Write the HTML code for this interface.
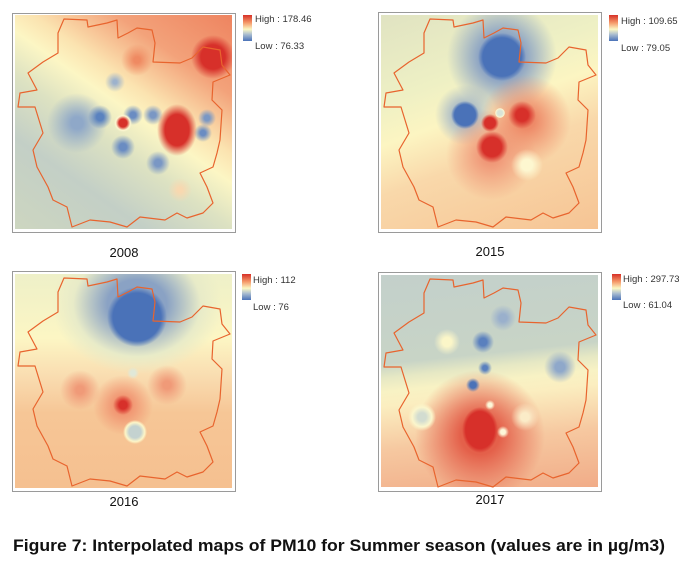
<!DOCTYPE html>
<html><head><meta charset="utf-8"><style>
html,body{margin:0;padding:0;background:#fff;}
body{width:679px;height:567px;position:relative;overflow:hidden;font-family:"Liberation Sans",sans-serif;}
.frame{position:absolute;border:1px solid #9a9a9a;background:#fff;}
.map{position:absolute;}
.sw{position:absolute;width:9px;height:26px;background:linear-gradient(#d73027,#f59a6a 30%,#fbf7c4 55%,#a9bcd0 75%,#4a72b8);}
.lt{position:absolute;font-size:9.5px;color:#333;white-space:nowrap;}
.cap{position:absolute;font-size:13px;color:#111;width:80px;text-align:center;}
svg{position:absolute;left:0;top:0;}
</style></head><body>

<!-- Panel 1 -->
<div class="frame" style="left:12px;top:13px;width:222px;height:218px"></div>
<div class="map" style="left:15px;top:15px;width:217px;height:214px;background:
radial-gradient(circle 22px at 198px 42px,#d7302a 55%,rgba(215,48,42,0) 100%),
radial-gradient(ellipse 20px 26px at 162px 115px,#d7302a 60%,rgba(215,48,42,0) 100%),
radial-gradient(circle 9px at 108px 108px,#d7302a 45%,#fdf6d0 80%,rgba(253,246,208,0) 100%),
radial-gradient(circle 12px at 85px 102px,#5a82bf 30%,rgba(90,130,191,0) 100%),
radial-gradient(circle 10px at 118px 100px,#6a8cc2 30%,rgba(106,140,194,0) 100%),
radial-gradient(circle 10px at 138px 100px,#7a97c4 30%,rgba(122,151,196,0) 100%),
radial-gradient(circle 12px at 108px 132px,#6a8cc2 30%,rgba(106,140,194,0) 100%),
radial-gradient(circle 12px at 143px 148px,#7a97c4 30%,rgba(122,151,196,0) 100%),
radial-gradient(circle 9px at 192px 103px,#7a97c4 30%,rgba(122,151,196,0) 100%),
radial-gradient(circle 9px at 188px 118px,#6a8cc2 30%,rgba(106,140,194,0) 100%),
radial-gradient(circle 30px at 62px 108px,#8fa8c8 20%,rgba(143,168,200,0) 100%),
radial-gradient(circle 10px at 100px 67px,#9db2cc 20%,rgba(157,178,204,0) 100%),
radial-gradient(circle 16px at 122px 45px,#ef8a62 20%,rgba(239,138,98,0) 100%),
radial-gradient(circle 12px at 165px 175px,#f8d8b0 20%,rgba(248,216,176,0) 100%),
linear-gradient(215deg,#ee8460 0%,#f3a27a 22%,#fbe3b0 38%,#fcf6c4 46%,#dde2c2 58%,#c3cfc6 75%,#cdd6c0 100%);"></div>
<div class="sw" style="left:243px;top:15px"></div>
<div class="lt" style="left:255px;top:14px">High : 178.46</div>
<div class="lt" style="left:255px;top:41px">Low : 76.33</div>
<div class="cap" style="left:84px;top:245px">2008</div>

<!-- Panel 2 -->
<div class="frame" style="left:378px;top:12px;width:222px;height:219px"></div>
<div class="map" style="left:381px;top:15px;width:217px;height:214px;background:
radial-gradient(circle 24px at 121px 42px,#4a72b8 80%,rgba(74,114,184,0) 100%),
radial-gradient(circle 14px at 84px 100px,#4a72b8 75%,rgba(74,114,184,0) 100%),
radial-gradient(circle 5px at 119px 98px,#d8e4d8 50%,#fdf6d0 90%,rgba(253,246,208,0) 100%),
radial-gradient(circle 9px at 109px 108px,#d7302a 60%,rgba(215,48,42,0) 100%),
radial-gradient(circle 16px at 111px 132px,#d7302a 60%,rgba(215,48,42,0) 100%),
radial-gradient(circle 14px at 141px 100px,#d7302a 45%,rgba(215,48,42,0) 100%),
radial-gradient(circle 16px at 146px 150px,#fdf7d0 35%,rgba(253,247,208,0) 100%),
radial-gradient(circle 45px at 145px 105px,#ee8a68 20%,rgba(238,138,104,0) 100%),
radial-gradient(circle 45px at 110px 140px,#f09878 20%,rgba(240,152,120,0) 100%),
radial-gradient(circle 55px at 121px 42px,#8aa2c4 40%,rgba(138,162,196,0) 100%),
radial-gradient(circle 30px at 84px 100px,#a0b4c8 30%,rgba(160,180,200,0) 100%),
linear-gradient(160deg,#e0e3c2 0%,#eef0c4 30%,#fcf5c2 45%,#f9d8aa 62%,#f6c494 100%);"></div>
<div class="sw" style="left:609px;top:15px"></div>
<div class="lt" style="left:621px;top:16px">High : 109.65</div>
<div class="lt" style="left:621px;top:43px">Low : 79.05</div>
<div class="cap" style="left:450px;top:244px">2015</div>

<!-- Panel 3 -->
<div class="frame" style="left:12px;top:271px;width:222px;height:219px"></div>
<div class="map" style="left:15px;top:274px;width:217px;height:214px;background:
radial-gradient(circle 30px at 122px 43px,#4a72b8 80%,rgba(74,114,184,0) 100%),
radial-gradient(circle 6px at 118px 99px,#e0e8d8 40%,rgba(253,246,208,0) 100%),
radial-gradient(circle 10px at 108px 131px,#d7302a 40%,rgba(215,48,42,0) 100%),
radial-gradient(circle 12px at 120px 158px,#c4d2d0 50%,#fdf6c8 80%,rgba(253,246,200,0) 100%),
radial-gradient(circle 20px at 65px 116px,#f09a78 20%,rgba(240,154,120,0) 100%),
radial-gradient(circle 20px at 152px 111px,#f09a78 20%,rgba(240,154,120,0) 100%),
radial-gradient(circle 30px at 108px 131px,#f08e6c 20%,rgba(240,142,108,0) 100%),
radial-gradient(ellipse 85px 70px at 122px 30px,#8aa2c4 35%,#e8ebc8 75%,rgba(252,246,196,0) 100%),
linear-gradient(180deg,#eef0c8 0%,#fcf6c4 30%,#f9dcb0 48%,#f6c696 65%,#f5c090 100%);"></div>
<div class="sw" style="left:242px;top:274px"></div>
<div class="lt" style="left:253px;top:275px">High : 112</div>
<div class="lt" style="left:253px;top:302px">Low : 76</div>
<div class="cap" style="left:84px;top:494px">2016</div>

<!-- Panel 4 -->
<div class="frame" style="left:378px;top:272px;width:222px;height:218px"></div>
<div class="map" style="left:381px;top:275px;width:217px;height:212px;background:
radial-gradient(ellipse 18px 23px at 99px 155px,#d7302a 80%,rgba(215,48,42,0) 100%),
radial-gradient(circle 6px at 122px 157px,#fdf7d8 40%,rgba(253,247,216,0) 100%),
radial-gradient(circle 5px at 109px 130px,#fdf7d8 40%,rgba(253,247,216,0) 100%),
radial-gradient(circle 11px at 102px 67px,#5a80be 35%,rgba(90,128,190,0) 100%),
radial-gradient(circle 7px at 104px 93px,#5a80be 35%,rgba(90,128,190,0) 100%),
radial-gradient(circle 7px at 92px 110px,#4a72b8 45%,rgba(74,114,184,0) 100%),
radial-gradient(circle 13px at 122px 43px,#9ab0cc 30%,rgba(154,176,204,0) 100%),
radial-gradient(circle 16px at 179px 92px,#8fa8ca 30%,rgba(143,168,202,0) 100%),
radial-gradient(circle 13px at 66px 67px,#fbf6c8 35%,rgba(251,246,200,0) 100%),
radial-gradient(circle 14px at 41px 142px,#d2dcd0 30%,#fbf6cc 70%,rgba(251,246,204,0) 100%),
radial-gradient(circle 14px at 144px 142px,#fbecc8 30%,rgba(251,236,200,0) 100%),
radial-gradient(circle 65px at 99px 160px,#e4604a 30%,rgba(228,96,74,0) 100%),
linear-gradient(174deg,#c3d0cb 0%,#c8d4c6 38%,#e6e8c4 44%,#f8f2c4 50%,#fbeec0 56%,#f6c8a0 75%,#f1ac88 100%);"></div>
<div class="sw" style="left:612px;top:274px"></div>
<div class="lt" style="left:623px;top:274px">High : 297.73</div>
<div class="lt" style="left:623px;top:300px">Low : 61.04</div>
<div class="cap" style="left:450px;top:492px">2017</div>

<svg width="679" height="567" viewBox="0 0 679 567">
<defs>
<path id="b" fill="none" stroke="#e8642e" stroke-width="1.2" stroke-linejoin="round" d="M64,19 L87,20 L88,27 L107,23 L117,20 L118,38 L128,33 L137,28 L152,30 L155,43 L153,62 L180,63 L192,58 L203,47 L220,50 L222,65 L230,75 L213,82 L212,100 L222,110 L220,140 L217,153 L213,167 L200,173 L207,187 L213,203 L203,213 L187,218 L177,213 L165,220 L140,217 L127,227 L110,222 L90,220 L72,227 L67,207 L53,200 L48,187 L37,167 L33,150 L43,133 L35,107 L18,107 L20,93 L37,90 L28,73 L43,62 L58,53 L58,33 Z"/>
</defs>
<use href="#b"/>
<use href="#b" transform="translate(366,0)"/>
<use href="#b" transform="translate(0,259)"/>
<use href="#b" transform="translate(366,260)"/>
<text x="13" y="551" font-family="Liberation Sans, sans-serif" font-weight="bold" font-size="16.5" fill="#111" textLength="652" lengthAdjust="spacingAndGlyphs">Figure 7: Interpolated maps of PM10 for Summer season (values are in µg/m3)</text>
</svg>
</body></html>
